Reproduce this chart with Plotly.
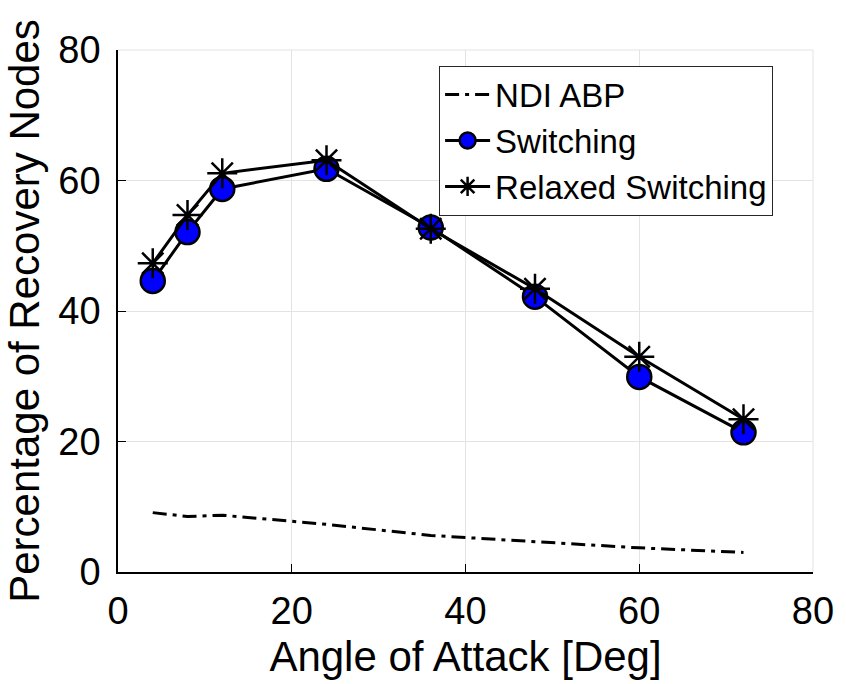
import plotly.graph_objects as go

# Angle of attack (degrees)
angles = [4, 8, 12, 24, 36, 48, 60, 72]

# Percentage of recovery nodes for each method
ndi_abp = [9.1, 8.5, 8.7, 7.3, 5.6, 4.6, 3.7, 3.0]
switching = [44.6, 52.1, 58.7, 61.8, 52.8, 42.2, 29.9, 21.4]
relaxed_switching = [47.3, 54.7, 61.1, 63.1, 52.6, 43.4, 33.0, 23.4]

x_ticks = [0, 20, 40, 60, 80]
y_ticks = [0, 20, 40, 60, 80]

FONT = "Liberation Sans, Arial, Helvetica, sans-serif"

fig = go.Figure()

fig.add_trace(go.Scatter(
    x=angles, y=ndi_abp, name="NDI ABP", mode="lines",
    line=dict(color="black", width=3, dash="14px,6px,4px,6px"),
))
fig.add_trace(go.Scatter(
    x=angles, y=switching, name="Switching", mode="lines+markers",
    line=dict(color="black", width=3),
    marker=dict(symbol="circle", size=24, color="#0000ff",
                line=dict(color="black", width=2.5)),
))
fig.add_trace(go.Scatter(
    x=angles, y=relaxed_switching, name="Relaxed Switching", mode="lines+markers",
    line=dict(color="black", width=3),
    marker=dict(symbol="asterisk-open", size=25, color="black",
                line=dict(color="black", width=2.5)),
))

axis_common = dict(
    showgrid=True, gridcolor="#e3e3e3", gridwidth=1,
    showline=True, linecolor="black", linewidth=1.5,
    ticks="inside", ticklen=8, tickwidth=1.2, tickcolor="black",
    zeroline=False, tickfont=dict(family=FONT, size=38, color="black"),
)

fig.update_layout(
    width=846, height=684,
    margin=dict(l=118, r=24, t=50, b=112),
    paper_bgcolor="white", plot_bgcolor="white",
    font=dict(family=FONT, color="black"),
    xaxis=dict(
        range=[0, 80], tickvals=x_ticks, ticktext=[str(v) for v in x_ticks],
        title=dict(text="Angle of Attack [Deg]", font=dict(family=FONT, size=42),
                   standoff=10),
        ticklabelstandoff=5,
        **axis_common,
    ),
    yaxis=dict(
        range=[0, 80], tickvals=y_ticks, ticktext=[str(v) for v in y_ticks],
        title=dict(text="Percentage of Recovery Nodes", font=dict(family=FONT, size=42),
                   standoff=6),
        ticklabelstandoff=8,
        **axis_common,
    ),
    legend=dict(
        x=0.462, y=0.97, xanchor="left", yanchor="top",
        bgcolor="white", bordercolor="#262626", borderwidth=1,
        font=dict(family=FONT, size=33, color="black"),
        itemwidth=45, tracegroupgap=0,
    ),
    showlegend=True,
)

# light border on the top and right edges of the plotting area
fig.add_shape(type="line", xref="paper", yref="paper", x0=0, x1=1, y0=1, y1=1,
              line=dict(color="#e3e3e3", width=1), layer="below")
fig.add_shape(type="line", xref="paper", yref="paper", x0=1, x1=1, y0=0, y1=1,
              line=dict(color="#e3e3e3", width=1), layer="below")

fig.write_html("out.html")
